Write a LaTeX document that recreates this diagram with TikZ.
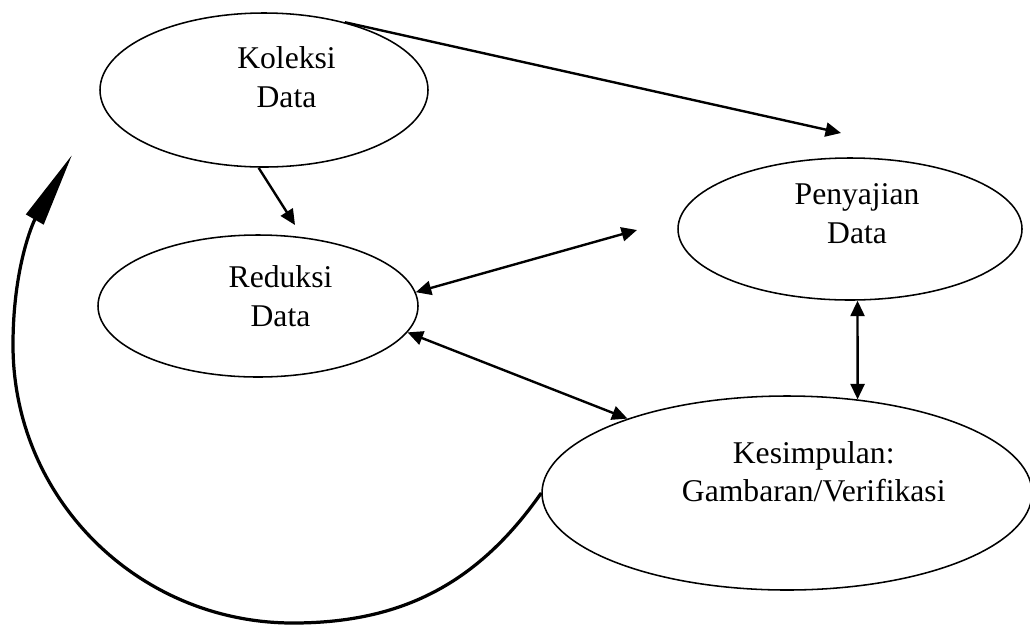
\documentclass[tikz,border=0pt]{standalone}
\usepackage{fontspec}
\setmainfont{Liberation Serif}
\usepackage{tikz}
\usetikzlibrary{arrows.meta,shapes.geometric}

\begin{document}
\begin{tikzpicture}[x=0.025cm, y=-0.025cm, every node/.style={font=\fontsize{22.5}{27.5}\selectfont},
  conn/.style={-{Triangle[length=11pt,width=10pt]}, line width=1.7pt},
  twoway/.style={{Triangle[length=11pt,width=10pt]}-{Triangle[length=11pt,width=10pt]}, line width=1.7pt}]
\useasboundingbox (0,0) rectangle (1030,627);
\foreach \name/\txt/\x/\y/\w/\h/\dx/\dy in {kol/{Koleksi\\Data}/264/90/328/154/16pt/9pt,red/{Reduksi\\Data}/258/306/320/142/16pt/7pt,pen/{Penyajian\\Data}/850/229/344/142/5pt/11pt,kes/{Kesimpulan:\\Gambaran/Verifikasi}/787/493/490/194/19pt/15pt}{
  \node[draw, ellipse, line width=1.1pt, inner sep=0pt, minimum width=\w*0.025cm, minimum height=\h*0.025cm,
    label={[align=center, xshift=\dx, yshift=\dy]center:\txt}] (\name) at (\x,\y) {};
}
\coordinate (pentop) at (841,133);
\coordinate (redtop) at (295,225);
\coordinate (penleft) at (637,230);
\coordinate (loopbot) at (293,623);
\coordinate (loopleft) at (13,345);
\coordinate (looptip) at (72,155);
\draw[conn] (kol.40)--(pentop);
\draw[conn] (kol.-94)--(redtop);
\draw[twoway] (red.5)--(penleft);
\draw[twoway] (red.-10)--(kes.155);
\draw[twoway] (pen.-84)--(kes.53);
% feedback loop
\draw[-{Triangle[length=53pt,width=14pt]}, line width=2.3pt] (kes.west) to[out=235,in=0] (loopbot) to[out=180,in=-90] (loopleft) to[out=90,in=240] (looptip);
\end{tikzpicture}
\end{document}
